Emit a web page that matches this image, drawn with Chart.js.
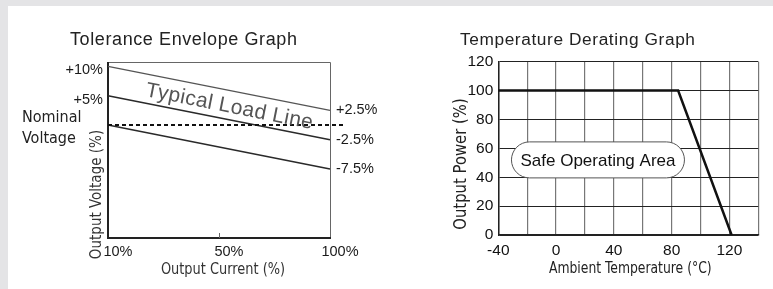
<!DOCTYPE html>
<html>
<head>
<meta charset="utf-8">
<script src="https://cdn.jsdelivr.net/npm/chart.js@4.4.1/dist/chart.umd.min.js"></script>
<style>
html,body{margin:0;padding:0;}
body{width:773px;height:289px;background:#e4e4e6;position:relative;overflow:hidden;}
#sheet{position:absolute;left:8px;top:6px;right:0;bottom:0;background:#fff;}
#tolerance{position:absolute;left:0;top:0;}
#derating{position:absolute;left:390px;top:0;}
</style>
</head>
<body>
<div id="sheet"></div>
<canvas id="tolerance" width="390" height="289"></canvas>
<canvas id="derating" width="383" height="289"></canvas>
<script>
// Tolerance envelope (left)
const loadLabels = ['10%', '50%', '100%'];
const upperLimit = [10, null, 2.5];
const typicalLoad = [5, null, -2.5];
const lowerLimit = [0, null, -7.5];
const nominalLevel = 0;
const voltTicks = [10, 5];
const voltTickLabels = ['+10%', '+5%'];
const endTicks = [2.5, -2.5, -7.5];
const endTickLabels = ['+2.5%', '-2.5%', '-7.5%'];

// Temperature derating (right)
const deratingTemp = [-40, 84.5, 121.5];
const deratingPower = [100, 100, 0];
const tempLabelTicks = [-40, 0, 40, 80, 120];
const safeLabelAt = {temp: 29, power: 52};

const SANS = "'Liberation Sans', Arial, sans-serif";
const NARROW = "'DejaVu Sans Condensed', sans-serif";
Chart.defaults.font.family = SANS;
Chart.defaults.color = '#1a1a1a';

function putText(ctx, text, x, y, font, opt){
 opt = opt || {};
 ctx.save();
 ctx.font = font;
 ctx.fillStyle = opt.color || '#222';
 ctx.textAlign = opt.align || 'center';
 ctx.textBaseline = opt.baseline || 'middle';
 ctx.letterSpacing = opt.spacing || '0px';
 ctx.translate(x, y);
 if(opt.rotate) ctx.rotate(opt.rotate);
 if(opt.sx) ctx.scale(opt.sx, 1);
 ctx.fillText(text, 0, 0);
 ctx.restore();
}

const toleranceDecor = {
 id: 'toleranceDecor',
 beforeDatasetsDraw(chart){
  const ctx = chart.ctx, a = chart.chartArea;
  ctx.save();
  ctx.strokeStyle = '#666'; ctx.lineWidth = 1;
  ctx.beginPath();
  ctx.moveTo(a.left, a.top + 0.5); ctx.lineTo(a.right + 0.5, a.top + 0.5); ctx.lineTo(a.right + 0.5, a.bottom);
  ctx.stroke();
  ctx.strokeStyle = '#222'; ctx.lineWidth = 2;
  ctx.beginPath();
  ctx.moveTo(a.left, a.top); ctx.lineTo(a.left, a.bottom); ctx.lineTo(a.right + 1, a.bottom);
  ctx.stroke();
  const tx = chart.scales.x.getPixelForTick(1);
  ctx.strokeStyle = '#666'; ctx.lineWidth = 1;
  ctx.beginPath(); ctx.moveTo(tx + 0.5, a.bottom); ctx.lineTo(tx + 0.5, a.bottom - 5); ctx.stroke();
  ctx.restore();
 },
 afterDatasetsDraw(chart){
  const ctx = chart.ctx, a = chart.chartArea;
  const x = chart.scales.x, y = chart.scales.y;
  const y0 = y.getPixelForValue(nominalLevel);
  ctx.save();
  ctx.setLineDash([4, 3]); ctx.lineWidth = 2; ctx.strokeStyle = '#111';
  ctx.beginPath(); ctx.moveTo(a.left, y0); ctx.lineTo(a.right + 13, y0); ctx.stroke();
  ctx.restore();

  // label along the typical load line
  const xl = x.getPixelForTick(0), xr = x.getPixelForTick(2);
  const yl = y.getPixelForValue(typicalLoad[0]), yr = y.getPixelForValue(typicalLoad[2]);
  const t = 0.5 + 8 / (xr - xl);
  ctx.save();
  ctx.translate(xl + t * (xr - xl), yl + t * (yr - yl));
  ctx.rotate(Math.atan2(yr - yl, xr - xl));
  ctx.font = '21px ' + SANS;
  ctx.letterSpacing = '0.4px';
  ctx.fillStyle = '#555';
  ctx.textAlign = 'center'; ctx.textBaseline = 'alphabetic';
  ctx.fillText('Typical Load Line', 0, -7);
  ctx.restore();
 },
 afterDraw(chart){
  const ctx = chart.ctx, a = chart.chartArea;
  const y0 = chart.scales.y.getPixelForValue(nominalLevel);
  putText(ctx, 'Tolerance Envelope Graph', 70, 44.5, '18px ' + SANS, {align: 'left', baseline: 'alphabetic', spacing: '0.6px'});
  putText(ctx, 'Nominal', 22, y0 - 7, '16px ' + NARROW, {align: 'left'});
  putText(ctx, 'Voltage', 22, y0 + 14, '16px ' + NARROW, {align: 'left'});
  putText(ctx, 'Output Voltage (%)', 97, 194.5, '15px ' + NARROW, {rotate: -Math.PI / 2, color: '#333'});
  putText(ctx, 'Output Current (%)', (a.left + a.right) / 2 + 4, 270.5, '15px ' + NARROW, {color: '#333', sx: 0.96});
 }
};

const lineStyle = {borderWidth: 1.5, pointRadius: 0, spanGaps: true, tension: 0, fill: false};

new Chart(document.getElementById('tolerance'), {
 type: 'line',
 data: {
  labels: loadLabels,
  datasets: [
   Object.assign({label: 'Upper', data: upperLimit, borderColor: '#555'}, lineStyle, {borderWidth: 1.3}),
   Object.assign({label: 'Typical', data: typicalLoad, borderColor: '#2a2a2a'}, lineStyle),
   Object.assign({label: 'Lower', data: lowerLimit, borderColor: '#2a2a2a'}, lineStyle)
  ]
 },
 options: {
  responsive: false,
  animation: false,
  events: [],
  layout: {padding: {left: 30, right: 0, top: 62, bottom: 0}},
  plugins: {legend: {display: false}, tooltip: {enabled: false}},
  scales: {
   x: {
    type: 'category',
    offset: false,
    grid: {display: false, drawTicks: false},
    border: {display: false},
    ticks: {autoSkip: false, maxRotation: 0, padding: 5, labelOffset: 10, font: {size: 14.5}},
    afterFit: s => { s.height = 51; }
   },
   y: {
    position: 'left',
    min: -19.25, max: 10.75,
    grid: {display: false, drawTicks: false},
    border: {display: false},
    afterBuildTicks: s => { s.ticks = voltTicks.map(v => ({value: v})); },
    ticks: {padding: 5, labelOffset: 4, font: {size: 14.5},
     callback: v => voltTickLabels[voltTicks.indexOf(v)]},
    afterFit: s => { s.width = 78; }
   },
   y2: {
    position: 'right',
    min: -19.25, max: 10.75,
    grid: {display: false, drawTicks: false},
    border: {display: false},
    afterBuildTicks: s => { s.ticks = endTicks.map(v => ({value: v})); },
    ticks: {padding: 6, font: {size: 14.5},
     callback: v => endTickLabels[endTicks.indexOf(v)]},
    afterFit: s => { s.width = 60; }
   }
  }
 },
 plugins: [toleranceDecor]
});

const deratingDecor = {
 id: 'deratingDecor',
 beforeDatasetsDraw(chart){
  const ctx = chart.ctx;
  const cx = chart.scales.x.getPixelForValue(safeLabelAt.temp);
  const cy = chart.scales.y.getPixelForValue(safeLabelAt.power);
  const w = 173, h = 36;
  ctx.save();
  ctx.beginPath();
  ctx.roundRect(cx - w / 2, cy - h / 2, w, h, h / 2);
  ctx.fillStyle = '#fff'; ctx.fill();
  ctx.strokeStyle = '#555'; ctx.lineWidth = 1; ctx.stroke();
  ctx.restore();
  putText(ctx, 'Safe Operating Area', cx, cy + 1, '17px ' + SANS, {color: '#111'});
 },
 afterDraw(chart){
  const ctx = chart.ctx, a = chart.chartArea;
  putText(ctx, 'Temperature Derating Graph', 70, 44.5, '17.3px ' + SANS, {align: 'left', baseline: 'alphabetic', spacing: '0.6px'});
  putText(ctx, 'Output Power (%)', 72, 164, '17px ' + NARROW, {rotate: -Math.PI / 2, sx: 0.97});
  putText(ctx, 'Ambient Temperature (°C)', (a.left + a.right) / 2 + 2, 269, '16px ' + NARROW, {sx: 0.86});
 }
};

new Chart(document.getElementById('derating'), {
 type: 'line',
 data: {
  datasets: [{
   label: 'Output Power',
   data: deratingTemp.map((t, i) => ({x: t, y: deratingPower[i]})),
   borderColor: '#111', borderWidth: 2.5, pointRadius: 0, tension: 0, fill: false
  }]
 },
 options: {
  responsive: false,
  animation: false,
  events: [],
  layout: {padding: {left: 0, right: 14.7, top: 61.7, bottom: 0}},
  plugins: {legend: {display: false}, tooltip: {enabled: false}},
  scales: {
   x: {
    type: 'linear',
    min: -40, max: 140,
    grid: {color: '#777', lineWidth: 1.2, drawTicks: false},
    border: {color: '#222', width: 1.5},
    ticks: {stepSize: 20, autoSkip: false, maxRotation: 0, padding: 6, font: {size: 15.5}, color: '#111',
     callback: v => tempLabelTicks.includes(v) ? String(v) : ''},
    afterFit: s => { s.height = 54; }
   },
   y: {
    min: 0, max: 120,
    grid: {color: '#222', lineWidth: 1, drawTicks: false},
    border: {color: '#222', width: 1.5},
    ticks: {stepSize: 20, padding: 5, font: {size: 15.5}, color: '#111'},
    afterFit: s => { s.width = 108.3; }
   }
  }
 },
 plugins: [deratingDecor]
});
</script>
</body>
</html>
